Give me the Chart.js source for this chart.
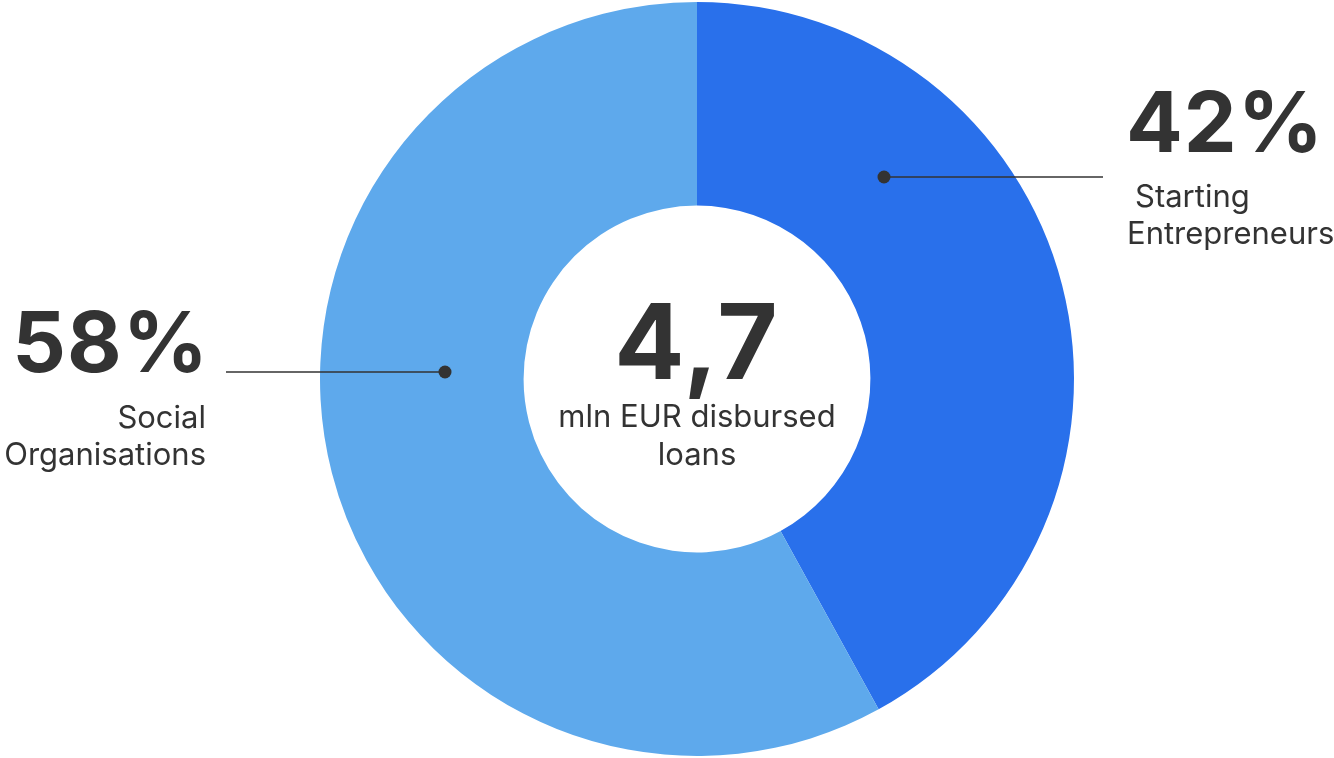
<!DOCTYPE html>
<html>
<head>
<meta charset="utf-8">
<title>Disbursed loans</title>
<script src="https://cdn.jsdelivr.net/npm/chart.js@4.4.0/dist/chart.umd.min.js"></script>
<style>
  html, body { margin: 0; padding: 0; background: #fff; }
  #wrap { position: relative; width: 1334px; height: 758px; }
</style>
</head>
<body>
<div id="wrap"><canvas id="donut" width="1334" height="758"></canvas></div>
<script>
const segments = ["Starting Entrepreneurs", "Social Organisations"];
const shares = [42, 58];
const segmentColors = ["#2970EB", "#5EA9EC"];
const labelLines = [["Starting", "Entrepreneurs"], ["Social", "Organisations"]];
const totalValue = "4,7";
const totalLines = ["mln EUR disbursed", "loans"];

const ink = "#333333";
const font = "Inter, 'Noto Sans', sans-serif";

// callouts: dot offset from center, line end x offset, text anchors
const callouts = [
  { dot: [187, -202], lineTo: 406, align: "left", bigX: 429, bigY: 152, subX: [438, 430], subY: [207, 244] },
  { dot: [-252, -7], lineTo: -471, align: "right", bigX: -488, bigY: 372, subX: [-491, -491], subY: [428, 465] }
];

const labelsPlugin = {
  id: "donutLabels",
  afterDraw(chart) {
    const ctx = chart.ctx;
    const arc = chart.getDatasetMeta(0).data[0];
    const cx = arc.x, cy = arc.y;
    ctx.save();
    ctx.fillStyle = ink;
    ctx.strokeStyle = ink;

    callouts.forEach((c, i) => {
      const dx = cx + c.dot[0], dy = cy + c.dot[1];
      ctx.lineWidth = 1.5;
      ctx.beginPath();
      ctx.moveTo(dx, dy);
      ctx.lineTo(cx + c.lineTo, dy);
      ctx.stroke();
      ctx.beginPath();
      ctx.arc(dx, dy, 6.5, 0, Math.PI * 2);
      ctx.fill();

      ctx.textAlign = c.align;
      ctx.textBaseline = "alphabetic";
      ctx.font = "700 84px " + font;
      ctx.letterSpacing = "1px";
      ctx.fillText(shares[i] + "%", cx + c.bigX, c.bigY);
      ctx.letterSpacing = "0px";
      ctx.font = "400 31px " + font;
      labelLines[i].forEach((t, j) => ctx.fillText(t, cx + c.subX[j], c.subY[j]));
    });

    ctx.textAlign = "center";
    ctx.font = "700 104px " + font;
    ctx.letterSpacing = "2px";
    ctx.fillText(totalValue, cx, 379);
    ctx.letterSpacing = "0px";
    ctx.font = "400 31px " + font;
    ctx.fillText(totalLines[0], cx, 427);
    ctx.fillText(totalLines[1], cx, 465);
    ctx.restore();
  }
};

new Chart(document.getElementById("donut"), {
  type: "doughnut",
  data: {
    labels: segments,
    datasets: [{
      data: shares,
      backgroundColor: segmentColors,
      borderWidth: 0,
      hoverOffset: 0
    }]
  },
  options: {
    responsive: false,
    animation: false,
    cutout: "46%",
    layout: { padding: { left: 60, right: 0, top: 2, bottom: 2 } },
    plugins: {
      legend: { display: false },
      tooltip: { enabled: false }
    }
  },
  plugins: [labelsPlugin]
});
</script>
</body>
</html>
